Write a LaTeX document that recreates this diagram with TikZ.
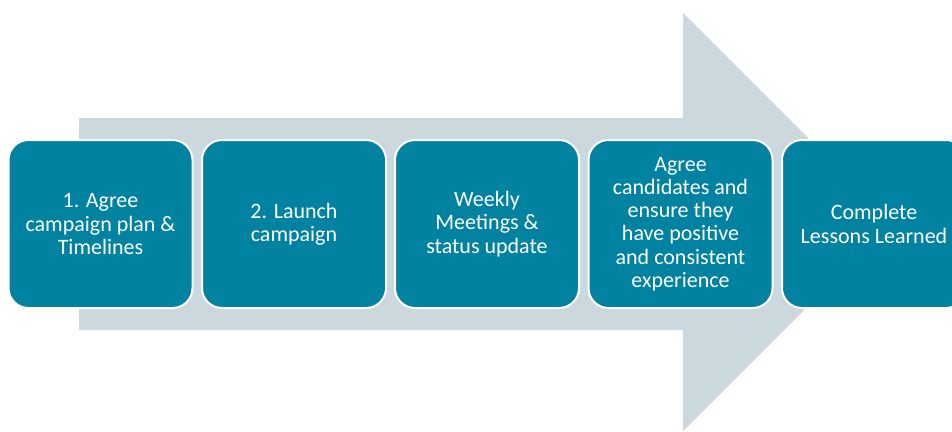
\documentclass[tikz,border=0pt]{standalone}
\usepackage{fontspec}
\setmainfont{Carlito}
\definecolor{teal1}{RGB}{0,130,160}
\definecolor{greyarrow}{RGB}{203,216,222}
\begin{document}
\begin{tikzpicture}[x=1pt,y=-1pt,
  stepbox/.style={draw=white,line width=2pt,fill=teal1,rounded corners=20pt,
    minimum width=184pt,minimum height=168pt,inner sep=0pt,
    text=white,align=center,font=\fontsize{22}{23.3}\selectfont}]
\useasboundingbox (0,0) rectangle (952,431);
\clip (0,0) rectangle (952,431);
\fill[greyarrow] (79,118) -- (683,118) -- (683,13) -- (892,222) -- (683,431) -- (683,330) -- (79,330) -- cycle;
\node[stepbox] (s1) at (100.5,224) {1. Agree\\campaign plan \&\\Timelines};
\node[stepbox] (s2) at (294,224) {2. Launch\\campaign};
\node[stepbox] (s3) at (487,224) {Weekly\\Meetings \&\\status update};
\node[stepbox] (s4) at (680.5,224) {Agree\\candidates and\\ensure they\\have positive\\and consistent\\experience};
\node[stepbox] (s5) at (874,224) {Complete\\Lessons Learned};
\end{tikzpicture}
\end{document}
